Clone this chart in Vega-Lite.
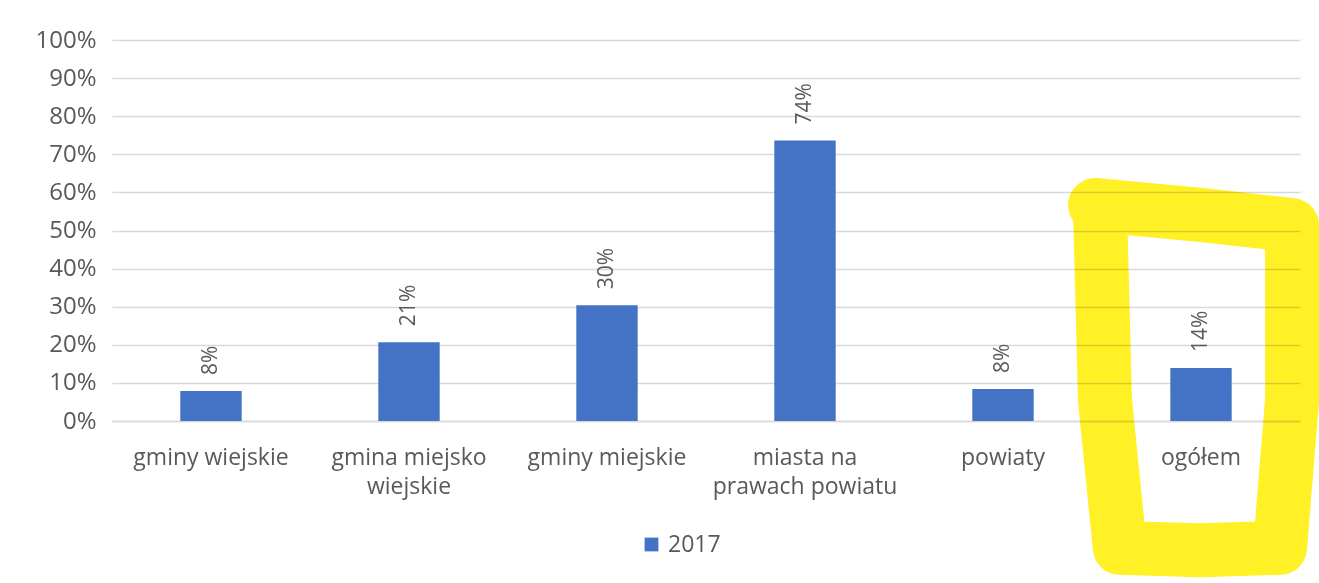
{
  "$schema": "https://vega.github.io/schema/vega-lite/v6.json",
  "width": 1188,
  "height": 381,
  "autosize": {"type": "none"},
  "padding": {"left": 112, "top": 40, "right": 19, "bottom": 162},
  "background": "white",
  "config": {"font": "Open Sans", "view": {"stroke": null}},
  "resolve": {"scale": {"x": "independent", "y": "independent"}},
  "layer": [
    {
      "data": {
        "values": [
          {"kategoria": "gminy wiejskie", "rok": "2017", "udzial": 0.079},
          {"kategoria": "gmina miejsko wiejskie", "rok": "2017", "udzial": 0.207},
          {"kategoria": "gminy miejskie", "rok": "2017", "udzial": 0.304},
          {"kategoria": "miasta na prawach powiatu", "rok": "2017", "udzial": 0.736},
          {"kategoria": "powiaty", "rok": "2017", "udzial": 0.084},
          {"kategoria": "ogółem", "rok": "2017", "udzial": 0.139}
        ]
      },
      "encoding": {
        "x": {
          "field": "kategoria",
          "type": "nominal",
          "sort": null,
          "scale": {"paddingInner": 0.69, "paddingOuter": 0.345},
          "axis": {
            "title": null,
            "labelAngle": 0,
            "labelFontSize": 23,
            "labelColor": "#595959",
            "labelLineHeight": 29,
            "labelPadding": 25,
            "labelLimit": 0,
            "domainColor": "#d9d9d9",
            "domainWidth": 1.5,
            "ticks": false,
            "labelExpr": "datum.label == 'gmina miejsko wiejskie' ? ['gmina miejsko', 'wiejskie'] : datum.label == 'miasta na prawach powiatu' ? ['miasta na', 'prawach powiatu'] : datum.label"
          }
        },
        "y": {
          "field": "udzial",
          "type": "quantitative",
          "scale": {"domain": [0, 1]},
          "axis": {
            "title": null,
            "values": [0, 0.1, 0.2, 0.3, 0.4, 0.5, 0.6, 0.7, 0.8, 0.9, 1],
            "format": ".0%",
            "labelFontSize": 24,
            "labelColor": "#595959",
            "labelPadding": 16,
            "gridColor": "#d9d9d9",
            "gridWidth": 1.5,
            "domain": false,
            "ticks": false
          }
        }
      },
      "layer": [
        {
          "mark": {"type": "bar"},
          "encoding": {
            "color": {
              "field": "rok",
              "type": "nominal",
              "scale": {"range": ["#4472C4"]},
              "legend": {
                "title": null,
                "orient": "none",
                "legendX": 528,
                "legendY": 493,
                "direction": "horizontal",
                "symbolType": "square",
                "symbolSize": 190,
                "symbolStrokeWidth": 0,
                "labelFontSize": 23,
                "labelColor": "#595959",
                "padding": 0,
                "labelOffset": 5
              }
            }
          }
        },
        {
          "mark": {
            "type": "text",
            "angle": 270,
            "align": "left",
            "baseline": "middle",
            "dx": 16,
            "fontSize": 21,
            "color": "#595959"
          },
          "encoding": {
            "text": {"field": "udzial", "type": "quantitative", "format": ".0%"}
          }
        }
      ]
    },
    {
      "data": {
        "values": [
          {"i": 1, "px": 4.99, "py": 0.554},
          {"i": 2, "px": 5.015, "py": 0.055},
          {"i": 3, "px": 5.09, "py": -0.333},
          {"i": 4, "px": 5.495, "py": -0.339},
          {"i": 5, "px": 5.899, "py": -0.333},
          {"i": 6, "px": 5.96, "py": 0.055},
          {"i": 7, "px": 5.96, "py": 0.514},
          {"i": 8, "px": 5.495, "py": 0.541},
          {"i": 9, "px": 4.965, "py": 0.567}
        ]
      },
      "mark": {
        "type": "line",
        "color": "#FFF125",
        "strokeWidth": 54,
        "strokeCap": "round",
        "strokeJoin": "round",
        "blend": "multiply",
        "clip": false
      },
      "encoding": {
        "x": {"field": "px", "type": "quantitative", "scale": {"domain": [0, 6]}, "axis": null},
        "y": {"field": "py", "type": "quantitative", "scale": {"domain": [0, 1]}, "axis": null},
        "order": {"field": "i", "type": "quantitative"}
      }
    }
  ]
}
